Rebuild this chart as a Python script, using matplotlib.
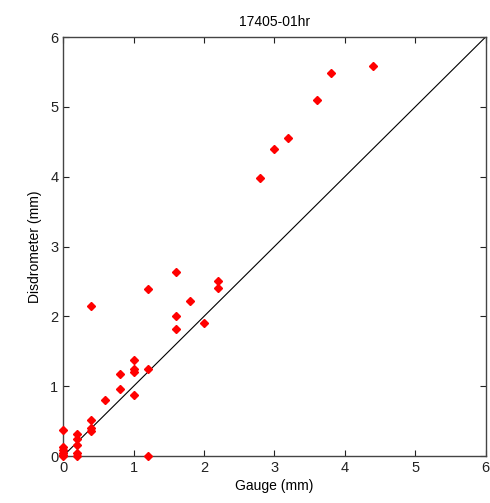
import matplotlib.pyplot as plt

# gauge vs disdrometer hourly totals (mm)
gauge = [0.0, 0.0, 0.0, 0.0, 0.0, 0.0,
         0.2, 0.2, 0.2, 0.2, 0.2,
         0.4, 0.4, 0.4, 0.4,
         0.6, 0.8, 0.8,
         1.0, 1.0, 1.0, 1.0,
         1.2, 1.2, 1.2,
         1.6, 1.6, 1.6, 1.8, 2.0, 2.2, 2.2,
         2.8, 3.0, 3.2, 3.6, 3.8, 4.4]
disdro = [0.37, 0.13, 0.09, 0.05, 0.02, 0.0,
          0.31, 0.24, 0.16, 0.04, 0.0,
          0.51, 0.40, 0.36, 2.15,
          0.80, 1.17, 0.96,
          1.37, 1.24, 1.21, 0.87,
          2.39, 1.24, 0.0,
          2.63, 2.01, 1.82, 2.22, 1.91, 2.50, 2.40,
          3.98, 4.40, 4.55, 5.10, 5.49, 5.58]

ticks = [0, 1, 2, 3, 4, 5, 6]

plt.rcParams['font.family'] = ['Liberation Sans', 'DejaVu Sans']
fig = plt.figure(figsize=(4.9, 5.03), dpi=100)
ax = fig.add_axes([0.129, 0.0934, 0.862, 0.833])

ax.plot([0, 6], [0, 6], color='black', linewidth=0.8)
ax.plot(gauge, disdro, linestyle='none', marker='D', markersize=4.5,
        color='red', markeredgecolor='red', clip_on=False, zorder=3)

ax.set_xlim(0, 6)
ax.set_ylim(0, 6)
ax.set_xticks(ticks)
ax.set_yticks(ticks)
ax.tick_params(direction='in', top=True, right=True, length=4,
               labelsize=10.5, colors='#222222')
for s in ax.spines.values():
    s.set_color('#444444')
    s.set_linewidth(1.0)

ax.set_title('17405-01hr', fontsize=10, pad=8)
ax.set_xlabel('Gauge (mm)', fontsize=10, labelpad=3)
ax.set_ylabel('Disdrometer (mm)', fontsize=10, labelpad=6)

fig.savefig('out.png', dpi=100)
